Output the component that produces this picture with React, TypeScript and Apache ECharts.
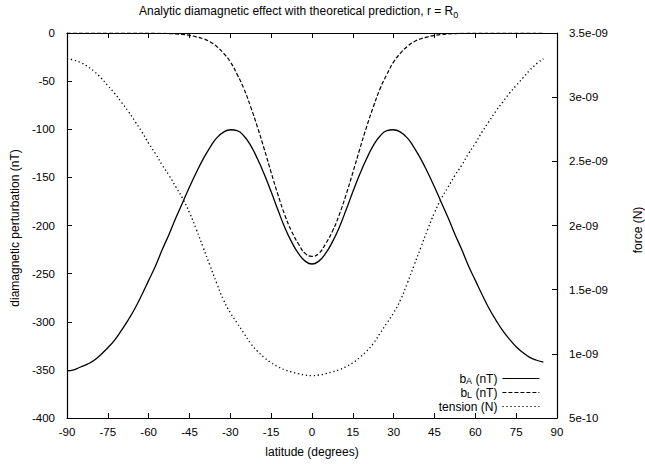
import React, { useEffect, useRef } from "react";
import * as echarts from "echarts";

const FONT = "'Liberation Sans', Arial, Helvetica, sans-serif";

const latitude = [
  -90, -87.5, -85, -82.5, -80, -77.5, -75, -72.5, -70, -67.5, -65, -62.5, -60, -57.5, -55, -52.5,
  -50, -47.5, -45, -42.5, -40, -37.5, -35, -32.5, -30, -27.5, -25, -22.5, -20, -17.5, -15, -12.5,
  -10, -7.5, -5, -2.5, 0, 2.5, 5, 7.5, 10, 12.5, 15, 17.5, 20, 22.5, 25, 27.5, 30, 32.5, 35, 37.5,
  40, 42.5, 45, 47.5, 50, 52.5, 55, 57.5, 60, 62.5, 65, 67.5, 70, 72.5, 75, 77.5, 80, 82.5, 85,
];

const bA = [
  -351, -350, -347, -344, -340, -334, -327, -319, -309, -298, -286, -272, -257, -242, -225, -209,
  -192, -176, -160, -145, -131, -119, -109, -103, -100.5, -101.5, -107, -117, -131, -147, -165, -184,
  -202, -217, -229, -237, -240, -237, -229, -217, -202, -184, -165, -147, -131, -117, -107, -101.5,
  -100.5, -103, -109, -119, -131, -145, -160, -176, -192, -209, -225, -242, -257, -272, -286, -298,
  -309, -318, -326, -332, -337, -340, -342,
];

const bL = [
  0, 0, 0, 0, 0, 0, 0, 0, 0, 0, 0, 0, -0.1, -0.2, -0.4, -0.6,
  -1, -1.5, -2.5, -4, -6, -9, -14, -21, -30, -43, -58, -77, -98, -121, -145, -168,
  -189, -206, -219, -229, -232, -229, -219, -206, -189, -168, -145, -121, -98, -77, -58, -43,
  -30, -21, -14, -9, -6, -4, -2.5, -1.5, -1, -0.6, -0.4, -0.2, -0.1, 0, 0, 0,
  0, 0, 0, 0, 0, 0, 0,
];

const tension = [
  3.30e-9, 3.29e-9, 3.27e-9, 3.24e-9, 3.20e-9, 3.15e-9, 3.09e-9, 3.03e-9, 2.96e-9, 2.89e-9, 2.81e-9,
  2.73e-9, 2.64e-9, 2.56e-9, 2.47e-9, 2.39e-9, 2.30e-9, 2.21e-9, 2.10e-9, 1.97e-9, 1.83e-9, 1.69e-9,
  1.55e-9, 1.42e-9, 1.32e-9, 1.24e-9, 1.16e-9, 1.08e-9, 1.02e-9, 0.97e-9, 0.93e-9, 0.90e-9, 0.875e-9,
  0.86e-9, 0.845e-9, 0.835e-9, 0.83e-9, 0.835e-9, 0.845e-9, 0.86e-9, 0.875e-9, 0.90e-9, 0.93e-9,
  0.97e-9, 1.02e-9, 1.08e-9, 1.16e-9, 1.24e-9, 1.32e-9, 1.42e-9, 1.55e-9, 1.69e-9, 1.83e-9, 1.97e-9,
  2.10e-9, 2.21e-9, 2.30e-9, 2.39e-9, 2.47e-9, 2.56e-9, 2.64e-9, 2.73e-9, 2.81e-9, 2.89e-9, 2.96e-9,
  3.03e-9, 3.09e-9, 3.15e-9, 3.21e-9, 3.26e-9, 3.30e-9,
];

const xTicks = { min: -90, max: 90, interval: 15 };
const yLeft = { min: -400, max: 0, interval: 50 };
const yRight = { min: 5e-10, max: 3.5e-9, interval: 5e-10 };

const titleText = "Analytic diamagnetic effect with theoretical prediction, r = R{sub|0}";
const seriesNames = ["bA", "bL", "tension"];
const legendLabels: Record<string, string> = {
  bA: "b{sub|A} (nT)",
  bL: "b{sub|L} (nT)",
  tension: "tension (N)",
};

const fmtExp = (v: number) => {
  const s = Number(v.toPrecision(3)).toExponential();
  return s.replace(/e([+-])(\d+)$/, (_m, sign, d) => "e" + sign + (d.length < 2 ? "0" + d : d));
};

const subRich = {
  sub: { fontSize: 9, lineHeight: 9, verticalAlign: "bottom", fontFamily: FONT, color: "#000" },
};
const legendRich = {
  sub: { fontSize: 9, lineHeight: 7, verticalAlign: "bottom", fontFamily: FONT, color: "#000" },
};

export default function App() {
  const ref = useRef<HTMLDivElement>(null);
  useEffect(() => {
    document.body.style.margin = "0";
    if (!ref.current) return;
    const chart = echarts.init(ref.current, null, { renderer: "svg" });
    const pairs = (vals: number[]) => latitude.map((x, i) => [x, vals[i]]);
    const axisLine = { show: true, onZero: false, lineStyle: { color: "#000", width: 1.2 } };
    const tick = { show: true, inside: true, length: 5, lineStyle: { color: "#000", width: 1 } };
    const labelStyle = { color: "#000", fontSize: 11.5, fontFamily: FONT };
    chart.setOption({
      animation: false,
      backgroundColor: "#fff",
      textStyle: { fontFamily: FONT },
      title: {
        text: titleText,
        left: 139,
        top: 3,
        padding: 0,
        textStyle: {
          fontSize: 12,
          fontWeight: "normal",
          color: "#000",
          fontFamily: FONT,
          lineHeight: 16,
          rich: subRich,
        },
      },
      grid: { left: 67, right: 88, top: 33, bottom: 46, containLabel: false },
      legend: {
        orient: "vertical",
        align: "right",
        right: 105,
        top: 372,
        padding: 0,
        itemWidth: 37,
        itemHeight: 11,
        itemGap: 1,
        data: seriesNames,
        formatter: (n: string) => legendLabels[n],
        itemStyle: { opacity: 0 },
        lineStyle: { width: 1.2 },
        textStyle: { fontSize: 12, color: "#000", fontFamily: FONT, lineHeight: 13, rich: legendRich },
      },
      xAxis: [
        {
          type: "value",
          ...xTicks,
          position: "bottom",
          axisLine,
          axisTick: tick,
          splitLine: { show: false },
          axisLabel: { ...labelStyle, margin: 8 },
        },
        {
          type: "value",
          ...xTicks,
          position: "top",
          axisLine,
          axisTick: tick,
          splitLine: { show: false },
          axisLabel: { show: false },
        },
      ],
      yAxis: [
        {
          type: "value",
          ...yLeft,
          position: "left",
          axisLine,
          axisTick: tick,
          splitLine: { show: false },
          axisLabel: { ...labelStyle, margin: 12 },
        },
        {
          type: "value",
          ...yRight,
          position: "right",
          axisLine,
          axisTick: tick,
          splitLine: { show: false },
          axisLabel: { ...labelStyle, margin: 12, formatter: (v: number) => fmtExp(v) },
        },
      ],
      graphic: [
        {
          type: "text",
          x: 15,
          y: 228,
          rotation: Math.PI / 2,
          style: {
            text: "diamagnetic perturbation (nT)",
            fontSize: 12,
            fontFamily: FONT,
            fill: "#000",
            align: "center",
            verticalAlign: "middle",
          },
        },
        {
          type: "text",
          x: 638,
          y: 230,
          rotation: Math.PI / 2,
          style: {
            text: "force (N)",
            fontSize: 12,
            fontFamily: FONT,
            fill: "#000",
            align: "center",
            verticalAlign: "middle",
          },
        },
        {
          type: "text",
          x: 312,
          y: 452,
          style: {
            text: "latitude (degrees)",
            fontSize: 12,
            fontFamily: FONT,
            fill: "#000",
            align: "center",
            verticalAlign: "middle",
          },
        },
      ],
      series: [
        {
          name: "bA",
          type: "line",
          data: pairs(bA),
          xAxisIndex: 0,
          yAxisIndex: 0,
          symbol: "none",
          smooth: true,
          lineStyle: { color: "#000", width: 1.3, type: "solid" },
          itemStyle: { color: "#000" },
        },
        {
          name: "bL",
          type: "line",
          data: pairs(bL),
          xAxisIndex: 0,
          yAxisIndex: 0,
          symbol: "none",
          smooth: true,
          lineStyle: { color: "#000", width: 1.2, type: [4, 2] },
          itemStyle: { color: "#000" },
        },
        {
          name: "tension",
          type: "line",
          data: pairs(tension),
          xAxisIndex: 0,
          yAxisIndex: 1,
          symbol: "none",
          smooth: true,
          lineStyle: { color: "#000", width: 1.3, type: [1.3, 2.7] },
          itemStyle: { color: "#000" },
        },
      ],
    });
    return () => chart.dispose();
  }, []);
  return <div ref={ref} style={{ width: 645, height: 464 }} />;
}
